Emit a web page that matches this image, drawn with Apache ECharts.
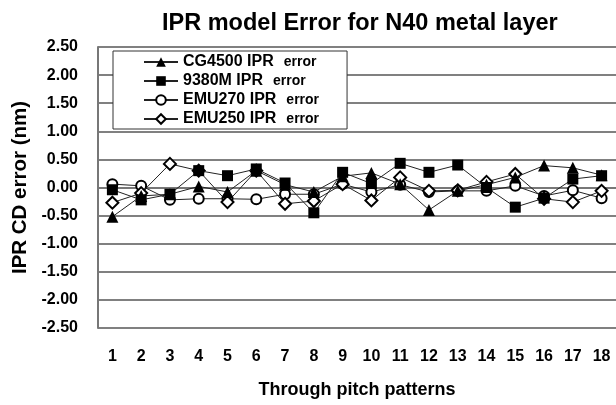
<!DOCTYPE html>
<html>
<head>
<meta charset="utf-8">
<script src="https://cdn.jsdelivr.net/npm/echarts@6/dist/echarts.min.js"></script>
<style>html,body{margin:0;padding:0;background:#fff;}#c{width:616px;height:405px;}</style>
</head>
<body>
<div id="c"></div>
<script>
var categories = ['1','2','3','4','5','6','7','8','9','10','11','12','13','14','15','16','17','18'];
var cg4500 = [-0.52, -0.15, -0.12, 0.02, -0.08, 0.30, 0.05, -0.08, 0.20, 0.26, 0.06, -0.40, -0.06, 0.05, 0.18, 0.39, 0.35, 0.22];
var m9380 = [-0.04, -0.22, -0.12, 0.30, 0.21, 0.33, 0.08, -0.45, 0.27, 0.07, 0.43, 0.27, 0.40, 0.00, -0.35, -0.19, 0.15, 0.21];
var emu270 = [0.06, 0.03, -0.22, -0.20, -0.20, -0.21, -0.12, -0.12, 0.06, -0.08, 0.05, -0.08, -0.06, -0.06, 0.03, -0.15, -0.05, -0.19];
var emu250 = [-0.27, -0.10, 0.42, 0.30, -0.26, 0.30, -0.29, -0.24, 0.06, -0.23, 0.18, -0.06, -0.05, 0.10, 0.24, -0.20, -0.26, -0.06];
var seriesNames = ['CG4500 IPR', '9380M IPR', 'EMU270 IPR', 'EMU250 IPR'];
var yTicks = {min: -2.5, max: 2.5, interval: 0.5};

var chart = echarts.init(document.getElementById('c'), null, {renderer: 'canvas'});
function mk(name, data, symbol, size, z) {
  return {
    name: name, type: 'line', data: data, symbol: symbol, symbolSize: size,
    showAllSymbol: true, z: z,
    lineStyle: {color: '#222', width: 1},
    itemStyle: {color: '#000', borderWidth: 1},
    emphasis: {disabled: true}, animation: false
  };
}
chart.setOption({
  animation: false,
  title: {
    text: 'IPR model Error for N40 metal layer',
    left: 157, top: 7,
    textStyle: {fontFamily: 'Liberation Sans, Arial', fontWeight: 'bold', fontSize: 23.5, color: '#000'}
  },
  legend: {
    orient: 'vertical', left: 113, top: 51,
    backgroundColor: '#fff', borderColor: '#333', borderWidth: 1,
    padding: [3, 28, 2, 30], itemGap: 3, itemWidth: 34, itemHeight: 12,
    data: seriesNames,
    formatter: function (n) { return '{a|' + n + '}   {b|error}'; },
    textStyle: {
      color: '#000', lineHeight: 16,
      rich: {
        a: {fontFamily: 'Liberation Sans, Arial', fontWeight: 'bold', fontSize: 16, color: '#000', lineHeight: 16},
        b: {fontFamily: 'Liberation Sans, Arial', fontWeight: 'bold', fontSize: 14, color: '#000', lineHeight: 16}
      }
    }
  },
  grid: {left: 98, right: 0, top: 47, bottom: 77},
  xAxis: {
    type: 'category', data: categories, boundaryGap: true,
    name: 'Through pitch patterns', nameLocation: 'middle', nameGap: 53,
    nameTextStyle: {fontFamily: 'Liberation Sans, Arial', fontWeight: 'bold', fontSize: 18, color: '#000'},
    axisLine: {lineStyle: {color: '#777', width: 2}},
    axisTick: {inside: true, length: 4, lineStyle: {color: '#444', width: 1}},
    axisLabel: {margin: 21, fontFamily: 'Liberation Sans, Arial', fontWeight: 'bold', fontSize: 16, color: '#000', interval: 0},
    splitLine: {show: false}
  },
  yAxis: {
    type: 'value', min: yTicks.min, max: yTicks.max, interval: yTicks.interval,
    name: 'IPR CD error (nm)', nameLocation: 'middle', nameGap: 55, nameRotate: 90,
    nameTextStyle: {fontFamily: 'Liberation Sans, Arial', fontWeight: 'bold', fontSize: 20.5, color: '#000'},
    axisLine: {show: true, lineStyle: {color: '#777', width: 2}},
    axisTick: {show: false},
    axisLabel: {margin: 20, fontFamily: 'Liberation Sans, Arial', fontWeight: 'bold', fontSize: 16, color: '#000',
      formatter: function (v) { return v.toFixed(2); }},
    splitLine: {show: true, lineStyle: {color: '#808080', width: 2}}
  },
  series: [
    mk(seriesNames[0], cg4500, 'triangle', 12, 4),
    mk(seriesNames[1], m9380, 'rect', 11, 5),
    mk(seriesNames[2], emu270, 'emptyCircle', 10, 2),
    mk(seriesNames[3], emu250, 'emptyDiamond', 12, 3)
  ]
});
</script>
</body>
</html>
